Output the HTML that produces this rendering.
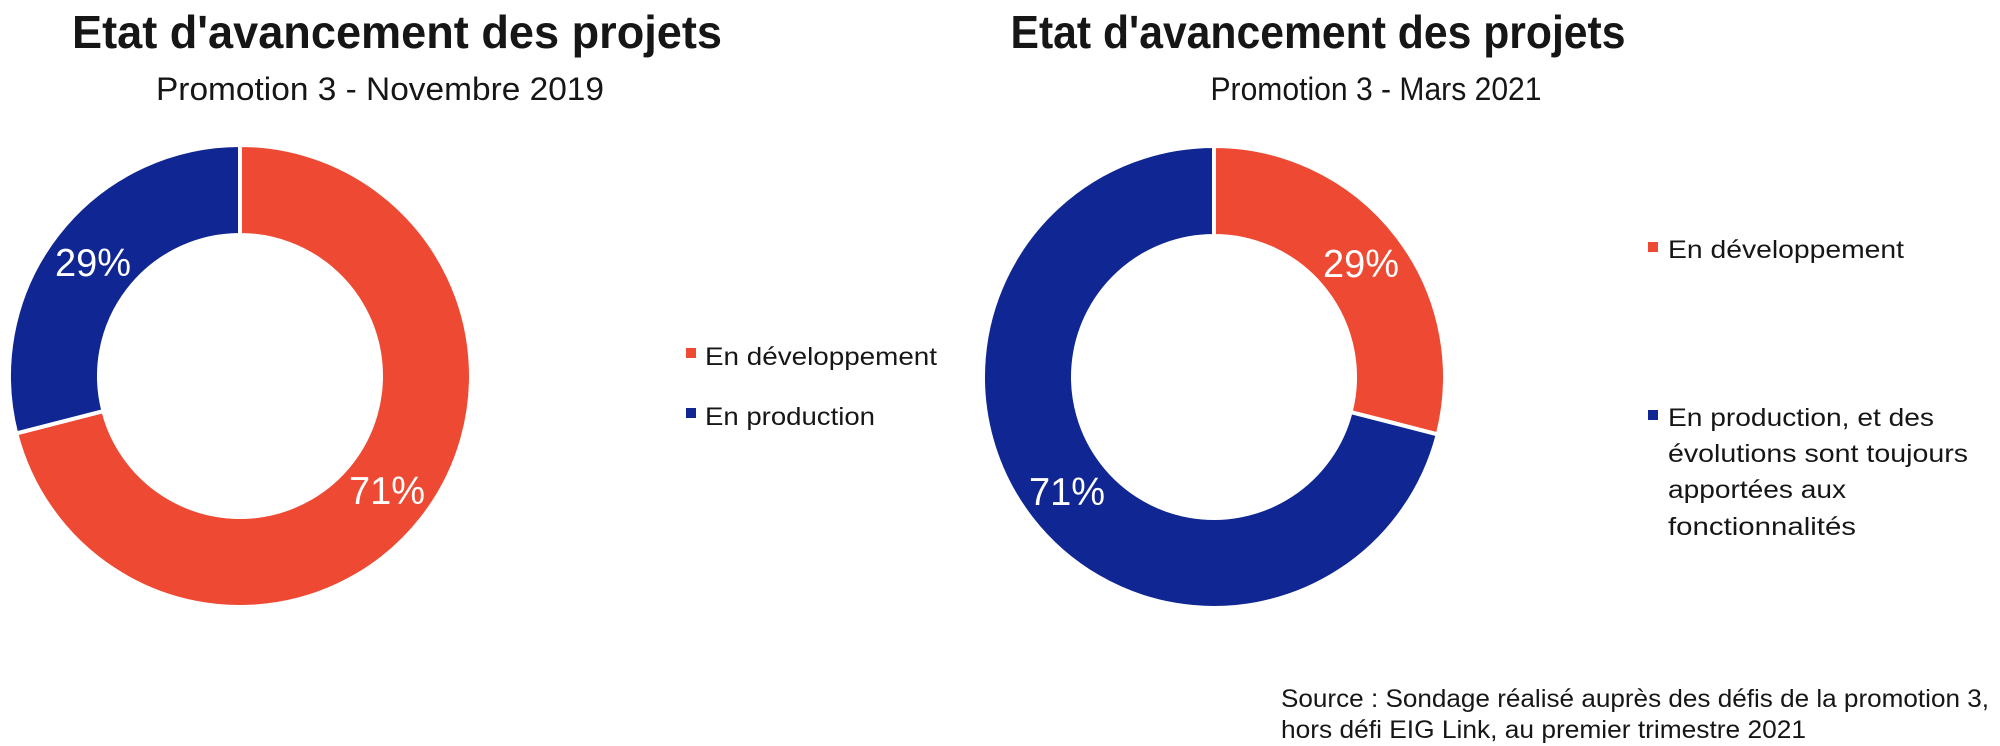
<!DOCTYPE html>
<html><head><meta charset="utf-8"><style>
html,body{margin:0;padding:0;background:#fff;width:2000px;height:746px;overflow:hidden}
svg{display:block;font-family:"Liberation Sans",sans-serif}
</style></head><body>
<svg id="chart" width="2000" height="746" viewBox="0 0 2000 746">
<text x="397" y="48" font-size="46" font-weight="bold" text-anchor="middle" textLength="650" lengthAdjust="spacingAndGlyphs" fill="#161616">Etat d'avancement des projets</text>
<text x="380" y="100" font-size="32" text-anchor="middle" textLength="448" lengthAdjust="spacingAndGlyphs" fill="#161616">Promotion 3 - Novembre 2019</text>
<text x="1318" y="48" font-size="46" font-weight="bold" text-anchor="middle" textLength="615" lengthAdjust="spacingAndGlyphs" fill="#161616">Etat d'avancement des projets</text>
<text x="1376" y="100" font-size="32" text-anchor="middle" textLength="331" lengthAdjust="spacingAndGlyphs" fill="#161616">Promotion 3 - Mars 2021</text>
<g id="left-donut"></g>
<g id="right-donut"></g>
<g>
<rect x="686" y="348" width="10" height="10" fill="#EE4A33"/>
<text x="705" y="365" font-size="25" textLength="232" lengthAdjust="spacingAndGlyphs" fill="#161616">En développement</text>
<rect x="686" y="408" width="10" height="10" fill="#0F2693"/>
<text x="705" y="425" font-size="25" textLength="170" lengthAdjust="spacingAndGlyphs" fill="#161616">En production</text>
</g>
<g>
<rect x="1648" y="242" width="10" height="10" fill="#EE4A33"/>
<text x="1668" y="258" font-size="25" textLength="236" lengthAdjust="spacingAndGlyphs" fill="#161616">En développement</text>
<rect x="1648" y="410" width="10" height="10" fill="#0F2693"/>
<g font-size="25" fill="#161616">
<text x="1668" y="426" textLength="266" lengthAdjust="spacingAndGlyphs">En production, et des</text>
<text x="1668" y="462" textLength="300" lengthAdjust="spacingAndGlyphs">évolutions sont toujours</text>
<text x="1668" y="498" textLength="178" lengthAdjust="spacingAndGlyphs">apportées aux</text>
<text x="1668" y="535" textLength="188" lengthAdjust="spacingAndGlyphs">fonctionnalités</text>
</g>
</g>
<g font-size="25" fill="#161616">
<text x="1281" y="707" textLength="708" lengthAdjust="spacingAndGlyphs">Source : Sondage réalisé auprès des défis de la promotion 3,</text>
<text x="1281" y="738" textLength="525" lengthAdjust="spacingAndGlyphs">hors défi EIG Link, au premier trimestre 2021</text>
</g>
</svg>
<script>
const categories = ["En développement", "En production"];
const leftValues = [71, 29];
const rightValues = [29, 71];
const colors = ["#EE4A33", "#0F2693"];
const NS = "http://www.w3.org/2000/svg";
const R = 231, r = 141;
function pt(cx, cy, rad, a) { return [cx + rad * Math.sin(a), cy - rad * Math.cos(a)]; }
function drawDonut(id, cx, cy, values) {
  const g = document.getElementById(id);
  const total = values.reduce((a, b) => a + b, 0);
  let start = 0;
  values.forEach((v, i) => {
    const a0 = start / total * 2 * Math.PI, a1 = (start + v) / total * 2 * Math.PI;
    const large = (a1 - a0) > Math.PI ? 1 : 0;
    const p0 = pt(cx, cy, R, a0), p1 = pt(cx, cy, R, a1), q1 = pt(cx, cy, r, a1), q0 = pt(cx, cy, r, a0);
    const path = document.createElementNS(NS, "path");
    path.setAttribute("d", `M${p0[0]},${p0[1]} A${R},${R} 0 ${large} 1 ${p1[0]},${p1[1]} L${q1[0]},${q1[1]} A${r},${r} 0 ${large} 0 ${q0[0]},${q0[1]} Z`);
    path.setAttribute("fill", colors[i]);
    path.setAttribute("stroke", "#fff");
    path.setAttribute("stroke-width", "4");
    
    
    g.appendChild(path);
    const mid = (a0 + a1) / 2;
    const lp = pt(cx, cy, (R + r) / 2, mid);
    const t = document.createElementNS(NS, "text");
    t.setAttribute("x", lp[0]);
    t.setAttribute("y", lp[1] + 14);
    t.setAttribute("text-anchor", "middle");
    t.setAttribute("font-size", "39");
    t.setAttribute("textLength", "76");
    t.setAttribute("lengthAdjust", "spacingAndGlyphs");
    t.setAttribute("fill", "#fff");
    t.textContent = Math.round(v / total * 100) + "%";
    
    
    g.appendChild(t);
    start += v;
  });
}
drawDonut("left-donut", 240, 376, leftValues);
drawDonut("right-donut", 1214, 377, rightValues);
</script>
</body></html>
